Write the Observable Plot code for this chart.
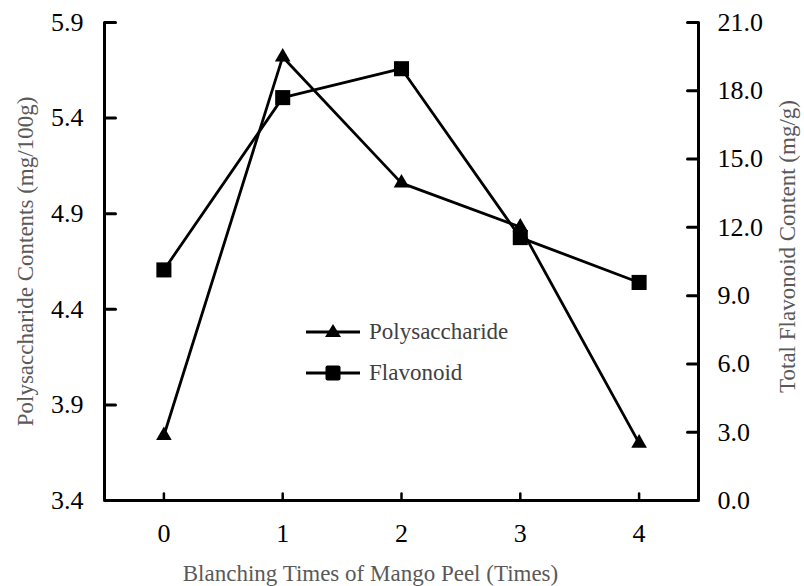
<!DOCTYPE html>
<html>
<head>
<meta charset="utf-8">
<script src="https://cdn.jsdelivr.net/npm/d3@7"></script>
<script src="https://cdn.jsdelivr.net/npm/@observablehq/plot@0.6"></script>
<style>
  html, body { margin: 0; padding: 0; background: #fff; }
  #wrap { position: relative; width: 804px; height: 586px; font-family: "Liberation Serif", "Times New Roman", serif; }
  .leg { position: absolute; display: flex; align-items: center; color: #404040; font-size: 23px; }
  .leg svg { display: block; margin-right: 9px; }
</style>
</head>
<body>
<div id="wrap"></div>
<script>
// ---- data ----
const blanchingTimes = [0, 1, 2, 3, 4];
const polysaccharide = [3.74, 5.72, 5.06, 4.83, 3.70];   // mg/100g (left axis)
const flavonoid = [10.13, 17.70, 18.97, 11.55, 9.58];     // mg/g (right axis)
const leftTicks = [3.4, 3.9, 4.4, 4.9, 5.4, 5.9];
const rightTicks = [0, 3, 6, 9, 12, 15, 18, 21];
const xTicks = [0, 1, 2, 3, 4];
const seriesNames = ["Polysaccharide", "Flavonoid"];
const xTitle = "Blanching Times of Mango Peel (Times)";
const leftTitle = "Polysaccharide Contents (mg/100g)";
const rightTitle = "Total Flavonoid Content (mg/g)";

// ---- dual-axis mapping ----
const L0 = 3.4, L1 = 5.9, R0 = 0, R1 = 21;
const toLeft = v => L0 + (v - R0) / (R1 - R0) * (L1 - L0);
const fromLeft = d => R0 + (d - L0) / (L1 - L0) * (R1 - R0);

const polyData = blanchingTimes.map((t, i) => ({t, v: polysaccharide[i]}));
const flavData = blanchingTimes.map((t, i) => ({t, v: toLeft(flavonoid[i])}));

const tickShape = {draw(ctx, l) { ctx.moveTo(0, 0); ctx.lineTo(0, -l); }};

const chart = Plot.plot({
  width: 804,
  height: 586,
  marginLeft: 104,
  marginRight: 106,
  marginTop: 22,
  marginBottom: 86,
  style: {fontFamily: '"Liberation Serif", "Times New Roman", serif', fontSize: "23px", color: "#000", background: "#fff"},
  x: {domain: [-0.5, 4.5]},
  y: {domain: [L0, L1]},
  marks: [
    // axis lines
    Plot.ruleX([-0.5, 4.5], {stroke: "#000", strokeWidth: 3}),
    Plot.ruleY([L0], {stroke: "#000", strokeWidth: 3}),
    // inward ticks
    Plot.vector(leftTicks, {y: d => d, frameAnchor: "left", rotate: 90, length: 11, anchor: "start", shape: tickShape, stroke: "#000", strokeWidth: 3}),
    Plot.vector(rightTicks.map(toLeft), {y: d => d, frameAnchor: "right", rotate: -90, length: 11, anchor: "start", shape: tickShape, stroke: "#000", strokeWidth: 3}),
    Plot.vector(xTicks, {x: d => d, frameAnchor: "bottom", rotate: 0, length: 7, anchor: "start", shape: tickShape, stroke: "#000", strokeWidth: 2.5}),
    // tick labels
    Plot.axisY({anchor: "left", ticks: leftTicks, tickFormat: d => d.toFixed(1), tickSize: 0, tickPadding: 21, label: null, fontSize: 26, fill: "#000"}),
    Plot.axisY({anchor: "right", ticks: rightTicks.map(toLeft), tickFormat: d => fromLeft(d).toFixed(1), tickSize: 0, tickPadding: 19, label: null, fontSize: 26, fill: "#000"}),
    Plot.axisX({ticks: xTicks, tickFormat: d => String(d), tickSize: 0, tickPadding: 23, label: null, fontSize: 26, fill: "#000"}),
    // axis titles
    Plot.text([xTitle], {frameAnchor: "bottom", textAnchor: "middle", lineAnchor: "middle", dx: -31, dy: 73, fill: "#595959", fontSize: 23}),
    Plot.text([leftTitle], {frameAnchor: "left", textAnchor: "middle", lineAnchor: "middle", rotate: -90, dx: -79, dy: 0, fill: "#595959", fontSize: 23}),
    Plot.text([rightTitle], {frameAnchor: "right", textAnchor: "middle", lineAnchor: "middle", rotate: -90, dx: 89, dy: -15, fill: "#595959", fontSize: 23}),
    // series
    Plot.line(flavData, {x: "t", y: "v", stroke: "#000", strokeWidth: 2.8}),
    Plot.dot(flavData, {x: "t", y: "v", symbol: "square", r: 8.5, fill: "#000", stroke: "none"}),
    Plot.line(polyData, {x: "t", y: "v", stroke: "#000", strokeWidth: 2.8}),
    Plot.dot(polyData, {x: "t", y: "v", symbol: "triangle", r: 5.8, fill: "#000", stroke: "none"})
  ]
});

const wrap = document.getElementById("wrap");
wrap.appendChild(chart);

// legend
const legendRows = [
  {name: seriesNames[0], top: 332, marker: '<path d="M27,2 L35,15 L19,15 Z" fill="#000"/>'},
  {name: seriesNames[1], top: 373, marker: '<rect x="19.5" y="2.5" width="15" height="15" rx="2" fill="#000"/>'}
];
for (const row of legendRows) {
  const div = document.createElement("div");
  div.className = "leg";
  div.style.left = "306px";
  div.style.top = (row.top - 10) + "px";
  div.style.height = "20px";
  div.innerHTML = `<svg width="54" height="20" viewBox="0 0 54 20"><line x1="0" y1="10" x2="54" y2="10" stroke="#000" stroke-width="3"/>${row.marker}</svg><span>${row.name}</span>`;
  wrap.appendChild(div);
}
</script>
</body>
</html>
